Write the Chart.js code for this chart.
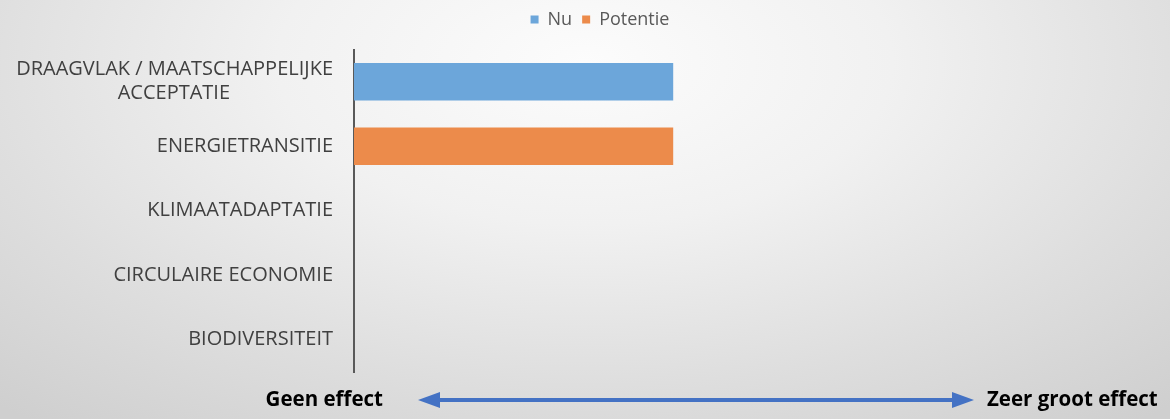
<!DOCTYPE html>
<html>
<head>
<meta charset="utf-8">
<script src="https://cdn.jsdelivr.net/npm/chart.js@4.4.1/dist/chart.umd.min.js"></script>
<style>
  html, body { margin: 0; padding: 0; }
  body {
    width: 1170px; height: 419px; overflow: hidden;
    background: radial-gradient(ellipse 75% 110% at 50% 15%, #fcfcfc 0%, #f1f1f1 35%, #dedede 70%, #cfcfcf 100%);
  }
</style>
</head>
<body>
<canvas id="chart" width="1170" height="419"></canvas>
<script>
const categories = [
    ["DRAAGVLAK / MAATSCHAPPELIJKE", "ACCEPTATIE"],
    "ENERGIETRANSITIE",
    "KLIMAATADAPTATIE",
    "CIRCULAIRE ECONOMIE",
    "BIODIVERSITEIT"
];
const nuValues = [2, null, null, null, null];
const potentieValues = [null, 2, null, null, null];
const scaleMax = 5;
const leftText = "Geen effect";
const rightText = "Zeer groot effect";

const labelFont = "Open Sans";
const m = document.createElement("canvas").getContext("2d");

// centre the shorter lines of a wrapped label under the longest line
function padLines(lines, font) {
    if (!Array.isArray(lines)) return lines;
    m.font = font;
    const widths = lines.map(l => m.measureText(l).width);
    const maxW = Math.max(...widths);
    const sp = m.measureText("\u2009").width;
    return lines.map((l, i) => l + "\u2009".repeat(Math.round((maxW - widths[i]) / 2 / sp)));
}

// legend sits a little right of and above where Chart.js would put it
const legendShift = {
    id: "legendShift",
    afterLayout(chart) {
        const lg = chart.legend;
        lg.left += 24; lg.right += 24;
        lg.top -= 11; lg.bottom -= 11;
    }
};

const arrowPlugin = {
    id: "effectArrow",
    afterDraw(chart) {
        const ctx = chart.ctx;
        const y = 400;
        const x0 = 418, x1 = 974;
        ctx.save();
        ctx.fillStyle = "#4472C4";
        ctx.strokeStyle = "#4472C4";
        ctx.lineWidth = 4;
        ctx.beginPath();
        ctx.moveTo(x0 + 18, y);
        ctx.lineTo(x1 - 18, y);
        ctx.stroke();
        ctx.beginPath();
        ctx.moveTo(x0, y);
        ctx.lineTo(x0 + 22, y - 8);
        ctx.lineTo(x0 + 22, y + 8);
        ctx.closePath();
        ctx.fill();
        ctx.beginPath();
        ctx.moveTo(x1, y);
        ctx.lineTo(x1 - 22, y - 8);
        ctx.lineTo(x1 - 22, y + 8);
        ctx.closePath();
        ctx.fill();
        ctx.fillStyle = "#000";
        ctx.font = "bold 20.5px '" + labelFont + "'";
        ctx.textBaseline = "middle";
        ctx.textAlign = "right";
        ctx.fillText(leftText, 383, y);
        ctx.textAlign = "left";
        ctx.fillText(rightText, 987, y);
        ctx.restore();
    }
};

new Chart(document.getElementById("chart"), {
    type: "bar",
    data: {
        labels: categories,
        datasets: [
            { label: "Nu", data: nuValues, backgroundColor: "#6CA6DA" },
            { label: "Potentie", data: potentieValues, backgroundColor: "#EC8B4B" }
        ]
    },
    options: {
        indexAxis: "y",
        responsive: false,
        animation: false,
        skipNull: true,
        categoryPercentage: 0.58,
        barPercentage: 1,
        layout: { padding: { left: 0, right: 18, top: 11.5, bottom: 47 } },
        scales: {
            x: { display: false, min: 0, max: scaleMax },
            y: {
                grid: { display: false },
                border: { display: true, color: "#595959", width: 2 },
                afterFit(scale) { scale.width = 354; },
                ticks: {
                    padding: 13,
                    color: "#404040",
                    font: { family: labelFont, size: 20 },
                    callback(value) {
                        return padLines(categories[value], "20px '" + labelFont + "'");
                    }
                }
            }
        },
        plugins: {
            legend: {
                position: "top",
                labels: {
                    boxWidth: 8, boxHeight: 8,
                    color: "#595959",
                    font: { family: labelFont, size: 18 },
                    padding: 10
                }
            },
            tooltip: { enabled: false }
        }
    },
    plugins: [legendShift, arrowPlugin]
});
</script>
</body>
</html>
